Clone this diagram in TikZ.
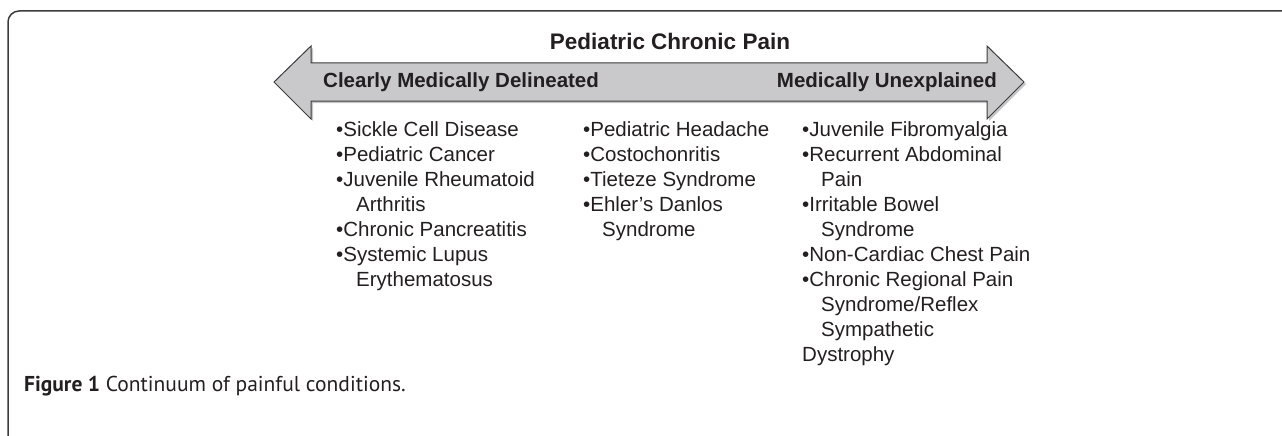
\documentclass[tikz,border=0pt]{standalone}
\usepackage{fontspec}
\setmainfont{Liberation Sans}
\newfontfamily\captionfont{PT Sans}
\usepackage{tikz}
\usetikzlibrary{positioning, calc}
\definecolor{arrowfill}{RGB}{201,201,203}
\definecolor{inkgray}{RGB}{35,31,32}
\definecolor{framegray}{RGB}{60,60,60}

\begin{document}
\begin{tikzpicture}[
    x=1pt, y=-1pt,
    listcol/.style={
        anchor=north west,
        align=left,
        inner sep=0pt,
        text=inkgray,
        font=\fontsize{20.5}{25}\selectfont
    },
    arrowlabel/.style={
        inner sep=0pt,
        text=inkgray,
        font=\fontsize{20.5}{25}\selectfont\bfseries
    },
    bigarrow/.style={
        draw=framegray,
        fill=arrowfill,
        line width=1pt,
        line join=miter
    }
]
    \useasboundingbox (0,0) rectangle (1282,436);

    \draw [framegray, line width=1.5pt, rounded corners=11pt] (1290,11) -- (8,11) -- (8,445);

    \fill [gray!45] (276,84) -- (313,48) -- (313,65) -- (989,65) -- (989,48) -- (1026,84)
        -- (989,121) -- (989,103) -- (313,103) -- (313,121) -- cycle;
    \draw [bigarrow] (274,82) -- (311,46) -- (311,63) -- (987,63) -- (987,46) -- (1024,82)
        -- (987,119) -- (987,101) -- (311,101) -- (311,119) -- cycle;

    \node [arrowlabel, anchor=base, font=\fontsize{22.5}{27}\selectfont\bfseries] (title) at (670,50) {Pediatric Chronic Pain};
    \node [arrowlabel, anchor=base west] (delineated) at (323,88) {Clearly Medically Delineated};
    \node [arrowlabel, anchor=base east] (unexplained) at (997,88) {Medically Unexplained};

    \node [listcol] (leftlist) at (336,121) {
        •Sickle Cell Disease\\
        •Pediatric Cancer\\
        •Juvenile Rheumatoid\\
        \hspace*{20pt}Arthritis\\
        •Chronic Pancreatitis\\
        •Systemic Lupus\\
        \hspace*{20pt}Erythematosus
    };

    \node [listcol] (midlist) at (583,121) {
        •Pediatric Headache\\
        •Costochonritis\\
        •Tieteze Syndrome\\
        •Ehler’s Danlos\\
        \hspace*{19pt}Syndrome
    };

    \node [listcol] (rightlist) at (802,121) {
        •Juvenile Fibromyalgia\\
        •Recurrent Abdominal\\
        \hspace*{19pt}Pain\\
        •Irritable Bowel\\
        \hspace*{19pt}Syndrome\\
        •Non-Cardiac Chest Pain\\
        •Chronic Regional Pain\\
        \hspace*{19pt}Syndrome/Reflex\\
        \hspace*{19pt}Sympathetic\\
        Dystrophy
    };

    \node [anchor=base west, inner sep=0pt, text=inkgray, font=\captionfont\fontsize{21.5}{25}\selectfont] (caption) at (24,391)
        {\textbf{Figure 1} Continuum of painful conditions.};
\end{tikzpicture}
\end{document}
